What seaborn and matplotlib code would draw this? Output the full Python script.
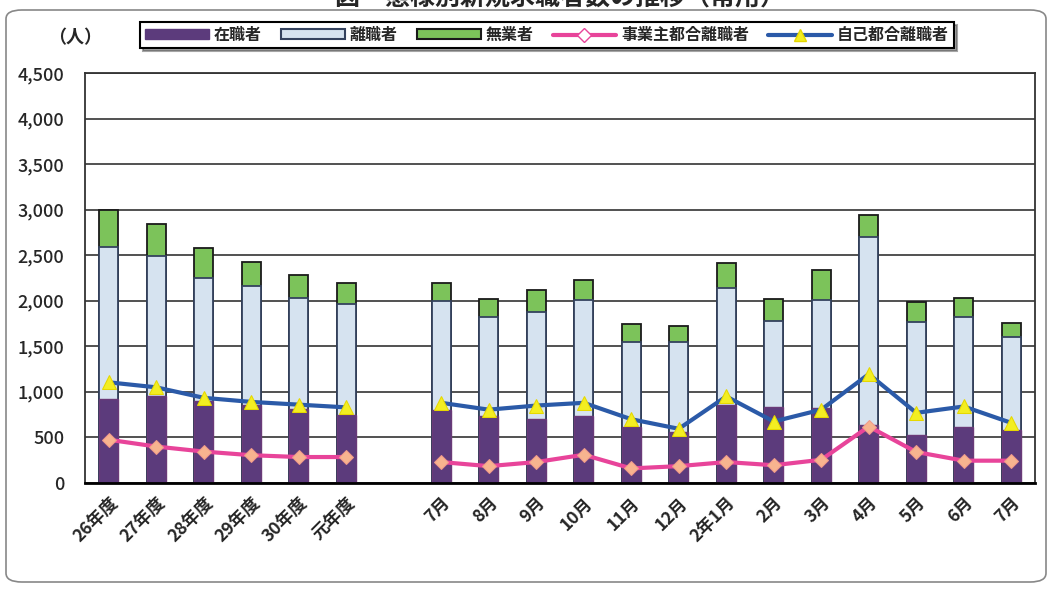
import numpy as np
import matplotlib
matplotlib.use("Agg")
import matplotlib.pyplot as plt
import seaborn as sns
import pandas as pd
from matplotlib.patches import Patch, FancyBboxPatch
from matplotlib.lines import Line2D

# category labels (年度 and months), the gap sits between 元年度 and 7月
yearLabels = ['26年度', '27年度', '28年度', '29年度', '30年度', '元年度']
monthLabels = ['7月', '8月', '9月', '10月', '11月', '12月', '2年1月',
               '2月', '3月', '4月', '5月', '6月', '7月']

# stacked bar values (人)
zaishoku = [925, 955, 905, 860, 815, 745,
            805, 740, 705, 730, 620, 560, 860, 830, 825, 640, 530, 610, 585]
rishoku = [1660, 1535, 1340, 1300, 1215, 1215,
           1190, 1080, 1170, 1280, 930, 990, 1280, 950, 1185, 2060, 1235, 1210, 1015]
mugyo = [415, 355, 335, 270, 250, 230,
         195, 205, 245, 220, 190, 170, 275, 245, 325, 240, 220, 210, 155]

# line values (人)
jigyonushi = [475, 400, 345, 305, 285, 285,
              230, 185, 230, 310, 160, 185, 230, 195, 255, 620, 340, 245, 245]
jiko = [1105, 1050, 935, 890, 860, 830,
        880, 805, 850, 880, 700, 595, 950, 675, 805, 1195, 770, 840, 660]

labels = yearLabels + monthLabels
slots = list(range(len(yearLabels))) + list(range(len(yearLabels) + 1, len(labels) + 1))
nYears = len(yearLabels)

df = pd.DataFrame({
    'pos': slots,
    'zaishoku': zaishoku,
    'rishoku': rishoku,
    'mugyo': mugyo,
    'jigyonushi': jigyonushi,
    'jiko': jiko,
})
df['upper'] = df['zaishoku'] + df['rishoku']
df['total'] = df['upper'] + df['mugyo']

sns.set_theme(style="white")
plt.rcParams['font.family'] = ['Noto Sans CJK JP', 'DejaVu Sans']

purple = '#5c3b7c'
lightblue = '#d6e3f0'
green = '#7cc35a'
pink = '#e8449a'
blue = '#2b5aa8'

fig = plt.figure(figsize=(10.52, 5.92), dpi=100)
fig.patch.set_facecolor('white')
ax = fig.add_axes([85 / 1052, 109 / 592, 950 / 1052, 410 / 592])

# stacked bars drawn from the top down
sns.barplot(data=df, x='pos', y='total', native_scale=True, width=0.4, color=green,
            saturation=1, edgecolor='#1a1a1a', linewidth=1.3, ax=ax, zorder=2)
sns.barplot(data=df, x='pos', y='upper', native_scale=True, width=0.4, color=lightblue,
            saturation=1, edgecolor='#34425e', linewidth=1.3, ax=ax, zorder=2)
sns.barplot(data=df, x='pos', y='zaishoku', native_scale=True, width=0.4, color=purple,
            saturation=1, edgecolor='#6a3a78', linewidth=1.0, ax=ax, zorder=2)

# lines, broken at the gap
for seg in [df.iloc[:nYears], df.iloc[nYears:]]:
    sns.lineplot(x=seg['pos'], y=seg['jigyonushi'], ax=ax, color=pink, lw=3, sort=False,
                 marker='D', markersize=7, markerfacecolor='#f7b48f',
                 markeredgecolor='#f09a8a', legend=False, zorder=4)
    sns.lineplot(x=seg['pos'], y=seg['jiko'], ax=ax, color=blue, lw=3, sort=False,
                 marker='^', markersize=10, markerfacecolor='#f3ee22',
                 markeredgecolor='#e6d800', legend=False, zorder=4)

# axes
ax.set_xlim(-0.5, len(labels) + 0.5)
ax.set_ylim(0, 4500)
ax.set_yticks(np.arange(0, 4501, 500))
ax.set_yticklabels([f'{v:,}' for v in range(0, 4501, 500)], fontsize=13, fontweight='medium')
ax.set_xticks(slots)
ax.set_xticklabels(labels, rotation=45, ha='right', rotation_mode='anchor',
                   fontsize=12.5, fontweight='bold')
ax.set_xticks(np.arange(0.5, len(labels) + 0.5, 1), minor=True)
ax.tick_params(axis='x', which='major', length=0, pad=8)
ax.tick_params(axis='x', which='minor', direction='in', length=5, width=1.5, color='black')
ax.tick_params(axis='y', which='major', direction='out', length=3, pad=12, color='#444')
ax.set_xlabel('')
ax.set_ylabel('')
ax.yaxis.grid(True, color='#333333', lw=1.2)
ax.set_axisbelow(True)
for side in ['top', 'left', 'right']:
    ax.spines[side].set_color('#333333')
    ax.spines[side].set_linewidth(1.3)
ax.spines['bottom'].set_color('black')
ax.spines['bottom'].set_linewidth(2)

# legend across the top
handles = [
    Patch(facecolor=purple, edgecolor=purple, label='在職者'),
    Patch(facecolor=lightblue, edgecolor='#34425e', lw=1.5, label='離職者'),
    Patch(facecolor=green, edgecolor='#1a1a1a', lw=1.5, label='無業者'),
    Line2D([], [], color=pink, lw=3, marker='D', markersize=7,
           markerfacecolor='white', markeredgecolor=pink, label='事業主都合離職者'),
    Line2D([], [], color=blue, lw=3, marker='^', markersize=9,
           markerfacecolor='#f3ee22', markeredgecolor='#e6d800', label='自己都合離職者'),
]
leg = fig.legend(handles=handles, loc='center', bbox_to_anchor=(547 / 1052, 1 - 35 / 592),
                 ncol=5, fontsize=11.5, frameon=True, fancybox=False, shadow=True,
                 handlelength=4, handleheight=0.6, columnspacing=1.2, handletextpad=0.3,
                 borderpad=0.3, edgecolor='black')
leg.get_frame().set_linewidth(1.5)
for t in leg.get_texts():
    t.set_fontweight('bold')

fig.text(75 / 1052, 1 - 38 / 592, '（人）', fontsize=13, fontweight='bold',
         ha='center', va='center')

# title is cut off by the top edge in the original
fig.text(560 / 1052, 1 - 5 / 592, '図　態様別新規求職者数の推移（常用）', fontsize=18,
         fontweight='bold', ha='center', va='baseline')

# outer chart frame
frame = FancyBboxPatch((6 / 1052, 10 / 592), 1040 / 1052, 572 / 592,
                       boxstyle='round,pad=0,rounding_size=0.015',
                       transform=fig.transFigure, facecolor='none',
                       edgecolor='#888888', lw=1.2, zorder=0)
fig.patches.append(frame)

fig.savefig('out.png', dpi=100)
